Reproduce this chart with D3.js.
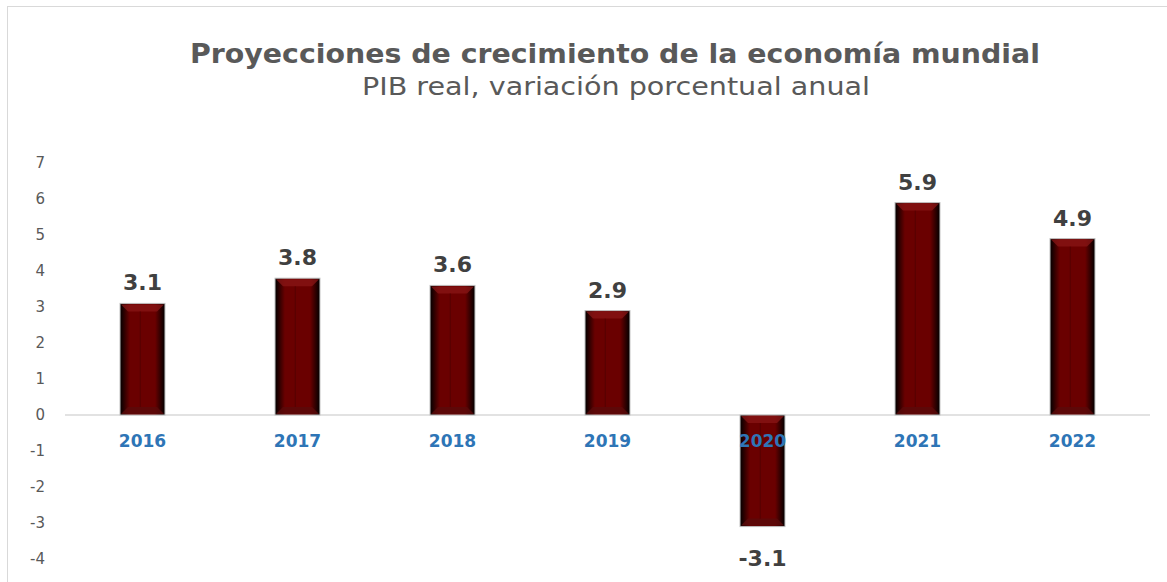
<!DOCTYPE html>
<html>
<head>
<meta charset="utf-8">
<script src="https://cdn.jsdelivr.net/npm/d3@7"></script>
<style>
  body { margin: 0; background: #fff; }
  svg { display: block; }
</style>
</head>
<body>
<div id="chart"></div>
<script>
// data
const years = ["2016", "2017", "2018", "2019", "2020", "2021", "2022"];
const growth = [3.1, 3.8, 3.6, 2.9, -3.1, 5.9, 4.9];
const yTicks = [-4, -3, -2, -1, 0, 1, 2, 3, 4, 5, 6, 7];

const width = 1167;
const height = 582;
const margin = { left: 65, right: 17, top: 163, bottom: 23 };

const svg = d3.select("#chart").append("svg")
    .attr("width", width)
    .attr("height", height);

// frame of the chart area
svg.append("rect")
    .attr("x", 7.5).attr("y", 6.5)
    .attr("width", width + 20).attr("height", height + 20)
    .attr("fill", "#fff")
    .attr("stroke", "#d9d9d9");

const defs = svg.append("defs");
const grad = defs.append("linearGradient").attr("id", "barSide")
    .attr("x1", "0%").attr("x2", "100%").attr("y1", "0%").attr("y2", "0%");
[["0%", "#000000"], ["10%", "#300000"], ["22%", "#6a0000"],
 ["78%", "#6a0000"], ["90%", "#300000"], ["100%", "#000000"]]
    .forEach(([o, c]) => grad.append("stop").attr("offset", o).attr("stop-color", c));

// scales
const x = d3.scaleBand()
    .domain(years)
    .range([margin.left, width - margin.right])
    .paddingInner(0.71)
    .paddingOuter(0.355);

const y = d3.scaleLinear()
    .domain([-4, 7])
    .range([height - margin.bottom, margin.top]);

// title
svg.append("text")
    .attr("x", 615).attr("y", 63)
    .attr("text-anchor", "middle")
    .attr("textLength", 850)
    .attr("lengthAdjust", "spacingAndGlyphs")
    .style("font-family", "'DejaVu Sans', sans-serif")
    .style("font-size", "27px")
    .style("font-weight", "bold")
    .style("fill", "#595959")
    .text("Proyecciones  de crecimiento de la economía mundial");

svg.append("text")
    .attr("x", 616).attr("y", 95)
    .attr("text-anchor", "middle")
    .attr("textLength", 508)
    .attr("lengthAdjust", "spacingAndGlyphs")
    .style("font-family", "'DejaVu Sans', sans-serif")
    .style("font-size", "24px")
    .style("fill", "#595959")
    .text("PIB real, variación porcentual anual");

// y axis labels (no line)
const yAxis = d3.axisLeft(y).tickValues(yTicks).tickFormat(d => String(d))
    .tickSize(0).tickPadding(0);
const gy = svg.append("g")
    .attr("transform", "translate(45,0)")
    .call(yAxis);
gy.select(".domain").remove();
gy.selectAll("text")
    .style("font-family", "'DejaVu Sans', sans-serif")
    .style("font-size", "15px")
    .style("fill", "#595959");

// zero line
svg.append("line")
    .attr("x1", margin.left).attr("x2", width - margin.right)
    .attr("y1", y(0)).attr("y2", y(0))
    .attr("stroke", "#d9d9d9")
    .attr("stroke-width", 1.5);

// bars
const data = years.map((yr, i) => ({ year: yr, value: growth[i] }));
const bw = x.bandwidth();
const bev = 8;

const bars = svg.selectAll(".bar")
    .data(data)
    .enter().append("g")
    .attr("class", "bar");

bars.append("rect")
    .attr("x", d => x(d.year))
    .attr("y", d => y(Math.max(0, d.value)))
    .attr("width", bw)
    .attr("height", d => Math.abs(y(d.value) - y(0)))
    .attr("fill", "url(#barSide)")
    .attr("stroke", "#bfbfbf")
    .attr("stroke-width", 1);

// top bevel
bars.append("path")
    .attr("d", d => {
        const x0 = x(d.year), top = y(Math.max(0, d.value));
        return `M${x0 + 1},${top + 1}L${x0 + bw - 1},${top + 1}L${x0 + bw - bev},${top + bev}L${x0 + bev},${top + bev}Z`;
    })
    .attr("fill", "#8a1515")
    .attr("opacity", 0.75);

// bottom bevel
bars.append("path")
    .attr("d", d => {
        const x0 = x(d.year), bot = y(Math.min(0, d.value));
        return `M${x0 + 1},${bot - 1}L${x0 + bw - 1},${bot - 1}L${x0 + bw - bev},${bot - bev}L${x0 + bev},${bot - bev}Z`;
    })
    .attr("fill", "#5a0a0a")
    .attr("opacity", 0.8);

// faint inner ridge
bars.append("line")
    .attr("x1", d => x(d.year) + bw * 0.45)
    .attr("x2", d => x(d.year) + bw * 0.45)
    .attr("y1", d => y(Math.max(0, d.value)) + bev)
    .attr("y2", d => y(Math.min(0, d.value)) - bev)
    .attr("stroke", "#4a0000")
    .attr("stroke-width", 1)
    .attr("opacity", 0.6);

// value labels
svg.selectAll(".label")
    .data(data)
    .enter().append("text")
    .attr("class", "label")
    .attr("x", d => x(d.year) + bw / 2)
    .attr("y", d => d.value >= 0 ? y(d.value) - 13 : y(d.value) + 39)
    .attr("text-anchor", "middle")
    .style("font-family", "'DejaVu Sans', sans-serif")
    .style("font-size", "22px")
    .style("font-weight", "bold")
    .style("fill", "#404040")
    .text(d => d.value.toFixed(1));

// category labels
const gx = svg.append("g")
    .attr("transform", `translate(0,${y(0)})`)
    .call(d3.axisBottom(x).tickSize(0).tickPadding(20));
gx.select(".domain").remove();
gx.selectAll("text")
    .style("font-family", "'DejaVu Sans', sans-serif")
    .style("font-size", "17px")
    .style("font-weight", "bold")
    .style("fill", "#2e75b6");
</script>
</body>
</html>
